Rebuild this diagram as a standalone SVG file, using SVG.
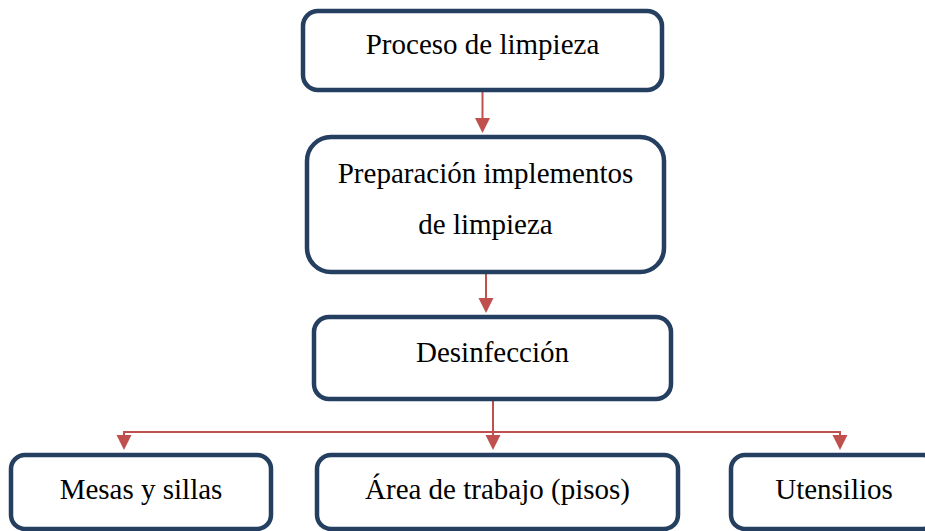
<svg xmlns="http://www.w3.org/2000/svg" width="925" height="531" viewBox="0 0 925 531">
<style>
.box{fill:#fff;stroke:#243F60;stroke-width:4.5}
.t{font-family:"Liberation Serif","Times New Roman",serif;font-size:29px;fill:#000;text-anchor:middle}
.c{fill:none;stroke:#C0504D;stroke-width:2}
</style>
<defs>
<marker id="ah" markerWidth="8" markerHeight="8" refX="8" refY="4" orient="auto" markerUnits="userSpaceOnUse" viewBox="0 0 8 8">
<path d="M0,0 L8,4 L0,8 Z" fill="#C0504D"/>
</marker>
<path id="tri" d="M-7.5,-15 L7.5,-15 L0,0 Z" fill="#C0504D"/>
</defs>
<rect width="925" height="531" fill="#fff"/>
<g id="connectors">
<line class="c" x1="482.5" y1="92" x2="482.5" y2="119"/>
<use href="#tri" x="482.5" y="133"/>
<line class="c" x1="486" y1="274" x2="486" y2="299"/>
<use href="#tri" x="486" y="313"/>
<line class="c" x1="493" y1="401" x2="493" y2="436"/>
<polyline class="c" points="124,437 124,432 840,432 840,437"/>
<use href="#tri" x="124" y="450"/>
<use href="#tri" x="493" y="450"/>
<use href="#tri" x="840" y="450"/>
</g>
<g id="n1">
<rect class="box" x="303" y="11" width="359" height="79" rx="15"/>
<text class="t" x="482.5" y="54">Proceso de limpieza</text>
</g>
<g id="n2">
<rect class="box" x="307" y="137" width="357" height="135" rx="24"/>
<text class="t" x="485.5" y="183">Preparación implementos</text>
<text class="t" x="485.5" y="234">de limpieza</text>
</g>
<g id="n3">
<rect class="box" x="314" y="317" width="357" height="82" rx="15"/>
<text class="t" x="492.5" y="362">Desinfección</text>
</g>
<g id="n4">
<rect class="box" x="11" y="455" width="260" height="74" rx="14"/>
<text class="t" x="141" y="499">Mesas y sillas</text>
</g>
<g id="n5">
<rect class="box" x="317" y="455" width="361" height="74" rx="14"/>
<text class="t" x="497.5" y="499">Área de trabajo (pisos)</text>
</g>
<g id="n6">
<rect class="box" x="731" y="455" width="206" height="74" rx="14"/>
<text class="t" x="834" y="499">Utensilios</text>
</g>
</svg>
